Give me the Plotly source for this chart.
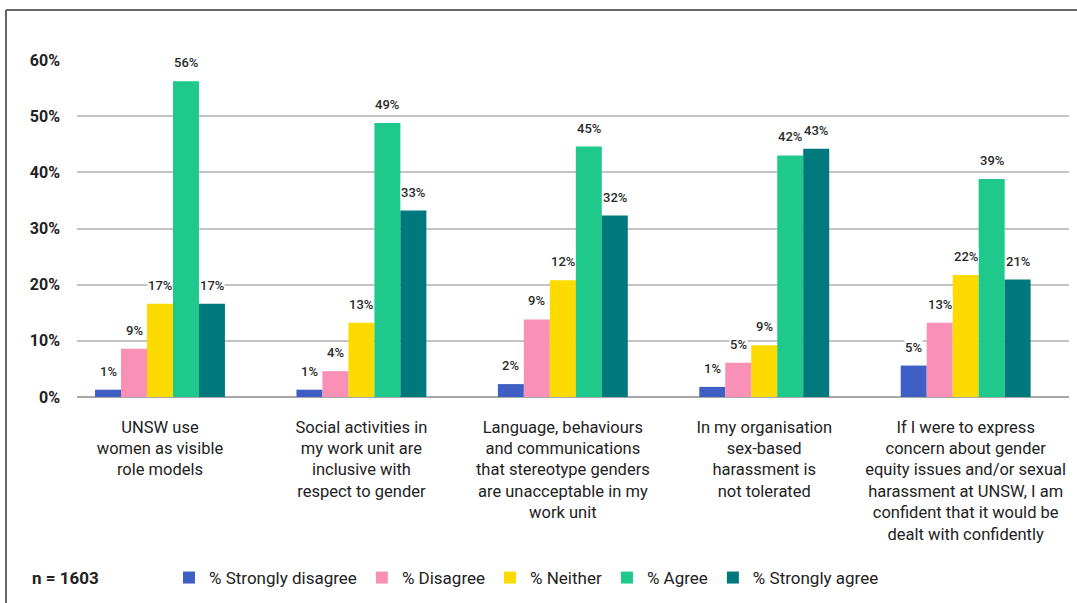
import plotly.graph_objects as go

categories = [
    "UNSW use<br>women as visible<br>role models",
    "Social activities in<br>my work unit are<br>inclusive with<br>respect to gender",
    "Language, behaviours<br>and communications<br>that stereotype genders<br>are unacceptable in my<br>work unit",
    "In my organisation<br>sex-based<br>harassment is<br>not tolerated",
    "If I were to express<br>concern about gender<br>equity issues and/or sexual<br>harassment at UNSW, I am<br>confident that it would be<br>dealt with confidently",
]
cat_ids = ["c1", "c2", "c3", "c4", "c5"]

series_names = ["% Strongly disagree", "% Disagree", "% Neither", "% Agree", "% Strongly agree"]

strongly_disagree = [1.3, 1.3, 2.3, 1.8, 5.6]
disagree = [8.6, 4.6, 13.8, 6.1, 13.2]
neither = [16.6, 13.2, 20.8, 9.2, 21.7]
agree = [56.2, 48.8, 44.6, 43.0, 38.8]
strongly_agree = [16.6, 33.2, 32.3, 44.2, 20.9]

label_strongly_disagree = ["1%", "1%", "2%", "1%", "5%"]
label_disagree = ["9%", "4%", "9%", "5%", "13%"]
label_neither = ["17%", "13%", "12%", "9%", "22%"]
label_agree = ["56%", "49%", "45%", "42%", "39%"]
label_strongly_agree = ["17%", "33%", "32%", "43%", "21%"]

y_ticks = [0, 10, 20, 30, 40, 50, 60]
y_tick_labels = ["0%", "10%", "20%", "30%", "40%", "50%", "60%"]

colors = ["#3f5fc4", "#f891b5", "#fedb00", "#1ec98b", "#00797d"]

values = [strongly_disagree, disagree, neither, agree, strongly_agree]
labels = [label_strongly_disagree, label_disagree, label_neither, label_agree, label_strongly_agree]

W, H = 1077, 603
ml, mr, mt, mb = 77, 8, 60, 206
xrange_ = [-0.412, 4.513]
bargap = 0.355
plot_w = W - ml - mr
plot_h = H - mt - mb
unit_px = plot_w / (xrange_[1] - xrange_[0])
bar_px = unit_px * (1 - bargap) / len(series_names)

fig = go.Figure()
for name, vals, col in zip(series_names, values, colors):
    fig.add_trace(go.Bar(
        x=cat_ids, y=vals, name=name,
        marker=dict(color=col, line=dict(width=0)),
        hoverinfo="skip",
    ))

annotations = []
for j, (vals, labs) in enumerate(zip(values, labels)):
    for i, (v, t) in enumerate(zip(vals, labs)):
        annotations.append(dict(
            x=cat_ids[i], y=v, xref="x", yref="y",
            text=t, showarrow=False,
            xshift=(j - 2) * bar_px, yshift=10,
            yanchor="bottom", xanchor="center",
            bgcolor="white", borderpad=0,
            font=dict(family="Roboto", size=13, color="#2a2a2a", weight=500),
        ))

annotations.append(dict(
    xref="paper", yref="paper",
    x=(30 - ml) / plot_w, y=(H - mb - 578) / plot_h,
    text="n = 1603", showarrow=False, xanchor="left", yanchor="middle",
    font=dict(family="Roboto", size=17, color="#222222", weight="bold"),
))

shapes = [
    dict(type="line", xref="paper", yref="paper",
         x0=(6 - ml) / plot_w, x1=(W + 20 - ml) / plot_w,
         y0=(H - mb - 10) / plot_h, y1=(H - mb - 10) / plot_h,
         line=dict(color="#666666", width=2)),
    dict(type="line", xref="paper", yref="paper",
         x0=(6 - ml) / plot_w, x1=(6 - ml) / plot_w,
         y0=(H - mb - 10) / plot_h, y1=(H - mb - H - 20) / plot_h,
         line=dict(color="#666666", width=2)),
]

fig.update_layout(
    width=W, height=H,
    margin=dict(l=ml, r=mr, t=mt, b=mb, autoexpand=False),
    paper_bgcolor="white", plot_bgcolor="white",
    barmode="group", bargap=bargap, bargroupgap=0,
    font=dict(family="Roboto", color="#222222"),
    xaxis=dict(
        type="category", range=xrange_,
        tickmode="array", tickvals=cat_ids, ticktext=categories,
        tickfont=dict(family="Roboto", size=16.5, color="#222222"),
        showgrid=False, ticks="", showline=False, zeroline=False,
        ticklabelstandoff=18,
    ),
    yaxis=dict(
        range=[0, 60], tickmode="array", tickvals=y_ticks, ticktext=y_tick_labels,
        tickfont=dict(family="Roboto", size=16, color="#222222", weight="bold"),
        showgrid=True, gridcolor="#c4c4c4", gridwidth=1.5,
        zeroline=True, zerolinecolor="#a8a8a8", zerolinewidth=2,
        showline=False, ticks="", ticklabelstandoff=16,
    ),
    legend=dict(
        orientation="h", x=(169 - ml) / plot_w, xanchor="left",
        y=(H - mb - 578) / plot_h, yanchor="middle",
        font=dict(family="Roboto", size=17, color="#222222"),
        bgcolor="rgba(0,0,0,0)", itemclick=False, itemdoubleclick=False,
    ),
    annotations=annotations,
    shapes=shapes,
    showlegend=True,
)

fig.write_html(
    "out.html",
    config={"displayModeBar": False},
    post_script="document.body.style.margin='0';document.body.style.overflow='hidden';",
)
